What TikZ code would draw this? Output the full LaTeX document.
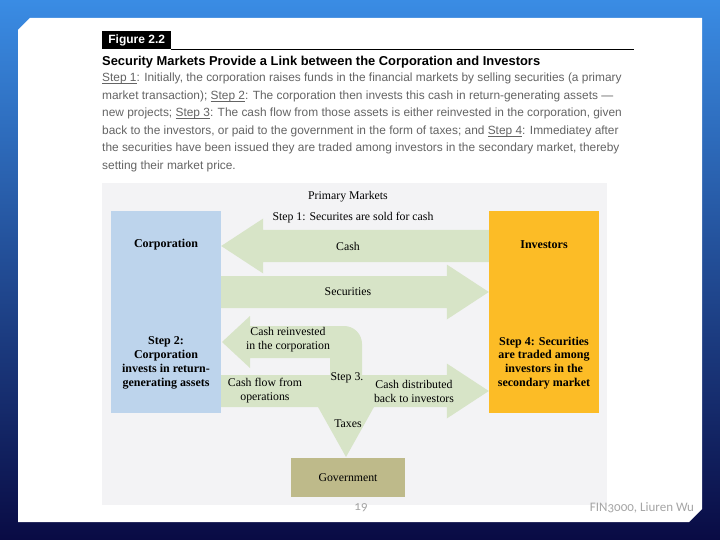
\documentclass[tikz,border=0pt]{standalone}
\usepackage{fontspec}
\setmainfont{Liberation Serif}
\setsansfont{Liberation Sans}
\newfontfamily\slidefont[Numbers=OldStyle]{Carlito}
\usepackage{xcolor}
\usetikzlibrary{calc}

\definecolor{flowgreen}{RGB}{215,228,199}
\definecolor{corpblue}{RGB}{189,212,236}
\definecolor{invorange}{RGB}{252,188,38}
\definecolor{govkhaki}{RGB}{190,186,138}
\definecolor{panelgrey}{RGB}{243,243,245}
\definecolor{bodygrey}{RGB}{100,100,100}
\definecolor{footgrey}{RGB}{165,165,165}
\definecolor{skyblue}{RGB}{58,140,228}
\definecolor{midblue}{RGB}{30,84,192}
\definecolor{navy}{RGB}{9,11,68}

\newcommand\stepref[1]{\underline{\smash{#1}}}

\newcommand\flowarrow[2]{%
  \path (#1) coordinate (ftail) (#2) coordinate (ftip)
    ($(ftip)!42pt!(ftail)$) coordinate (fbase);
  \fill[flow] ([yshift=16pt]ftail) -- ([yshift=16pt]fbase) -- ([yshift=27.5pt]fbase)
    -- (ftip) -- ([yshift=-27.5pt]fbase) -- ([yshift=-16pt]fbase)
    -- ([yshift=-16pt]ftail) -- cycle;}

\begin{document}
\begin{tikzpicture}[
  x=1pt, y=-1pt,
  flow/.style={fill=flowgreen},
  flowlbl/.style={font=\fontsize{11.8}{14}\selectfont, align=center, inner sep=0pt},
  party/.style={minimum width=110pt, minimum height=202pt, inner sep=0pt},
  partylbl/.style={font=\bfseries\fontsize{12}{13.8}\selectfont, align=center, inner sep=0pt},
  bodyline/.style={anchor=base west, inner sep=0pt, text=bodygrey,
    font=\sffamily\fontsize{11.9}{12}\selectfont},
  footer/.style={font=\slidefont\fontsize{13}{14}\selectfont, text=footgrey, inner sep=0pt}
]
\useasboundingbox (0,0) rectangle (720,540);
\shade[top color=skyblue, middle color=midblue, bottom color=navy] (0,0) rectangle (720,540);
\fill[white] (18,30) -- (30,18) -- (702,18) -- (702,509) -- (689,522) -- (18,522) -- cycle;

\node[fill=black, text=white, font=\sffamily\bfseries\fontsize{12}{12}\selectfont,
  minimum width=69pt, minimum height=18pt, inner sep=0pt, anchor=north west]
  (figtag) at (102,31) {Figure 2.2};
\coordinate (ruleend) at (634,48);
\draw[line width=0.8pt] (figtag.south east) -- (figtag.south east -| ruleend);

\node[anchor=base west, inner sep=0pt, font=\sffamily\bfseries\fontsize{12.9}{13}\selectfont]
  (title) at (102,66) {Security Markets Provide a Link between the Corporation and Investors};
\node[bodyline] (body1) at (102,82) {\stepref{Step 1}: Initially, the corporation raises funds in the financial markets by selling securities (a primary};
\node[bodyline] (body2) at (102,99.5) {market transaction); \stepref{Step 2}: The corporation then invests this cash in return-generating assets —};
\node[bodyline] (body3) at (102,117) {new projects; \stepref{Step 3}: The cash flow from those assets is either reinvested in the corporation, given};
\node[bodyline] (body4) at (102,134.5) {back to the investors, or paid to the government in the form of taxes; and \stepref{Step 4}: Immediatey after};
\node[bodyline] (body5) at (102,152) {the securities have been issued they are traded among investors in the secondary market, thereby};
\node[bodyline] (body6) at (102,169.5) {setting their market price.};

\fill[panelgrey] (102,183) rectangle (607,505);

\node[party, fill=corpblue] (corp) at (166,312) {};
\node[party, fill=invorange] (inv) at (544,312) {};
\node[fill=govkhaki, minimum width=114pt, minimum height=39pt, inner sep=0pt,
  font=\fontsize{11.8}{12}\selectfont] (gov) at (348,477.5) {Government};

\coordinate (cashrow) at (348,246);
\coordinate (secrow) at (348,292);
\coordinate (distrow) at (414,391);

\flowarrow{inv.west |- cashrow}{corp.east |- cashrow}
\flowarrow{corp.east |- secrow}{inv.west |- secrow}
\flowarrow{corp.east |- distrow}{inv.west |- distrow}
\fill[flow] (374,407) -- (346,457) -- (318,407) -- (330,407) -- (330,358) -- (250,358)
  -- (250,368) -- (222,342) -- (250,316) -- (250,326) -- (344,326)
  .. controls (354,326) and (362,334) .. (362,344) -- (362,407) -- cycle;

\node[flowlbl] (primary) at (348,197) {Primary Markets};
\node[flowlbl] (step1) at (353,218) {Step 1: Securites are sold for cash};
\node[flowlbl] (cashlbl) at (cashrow) {Cash};
\node[flowlbl] (seclbl) at (secrow) {Securities};
\node[flowlbl] (reinvest) at (288,340) {Cash reinvested\\in the corporation};
\node[flowlbl] (step3) at (347,378) {Step 3.};
\node[flowlbl] (opslbl) at (265,391) {Cash flow from\\operations};
\node[flowlbl] (distlbl) at (distrow) {Cash distributed\\back to investors};
\node[flowlbl] (taxes) at (348,424) {Taxes};

\node[partylbl] (corpname) at (166,245) {Corporation};
\node[partylbl] (corpstep) at (166,363) {Step 2:\\Corporation\\invests in return-\\generating assets};
\node[partylbl] (invname) at (544,245) {Investors};
\node[partylbl] (invstep) at (544,363) {Step 4: Securities\\are traded among\\investors in the\\secondary market};

\node[footer] (pageno) at (361,508) {19};
\node[footer] (credit) at (642,508) {FIN3000, Liuren Wu};
\end{tikzpicture}
\end{document}
